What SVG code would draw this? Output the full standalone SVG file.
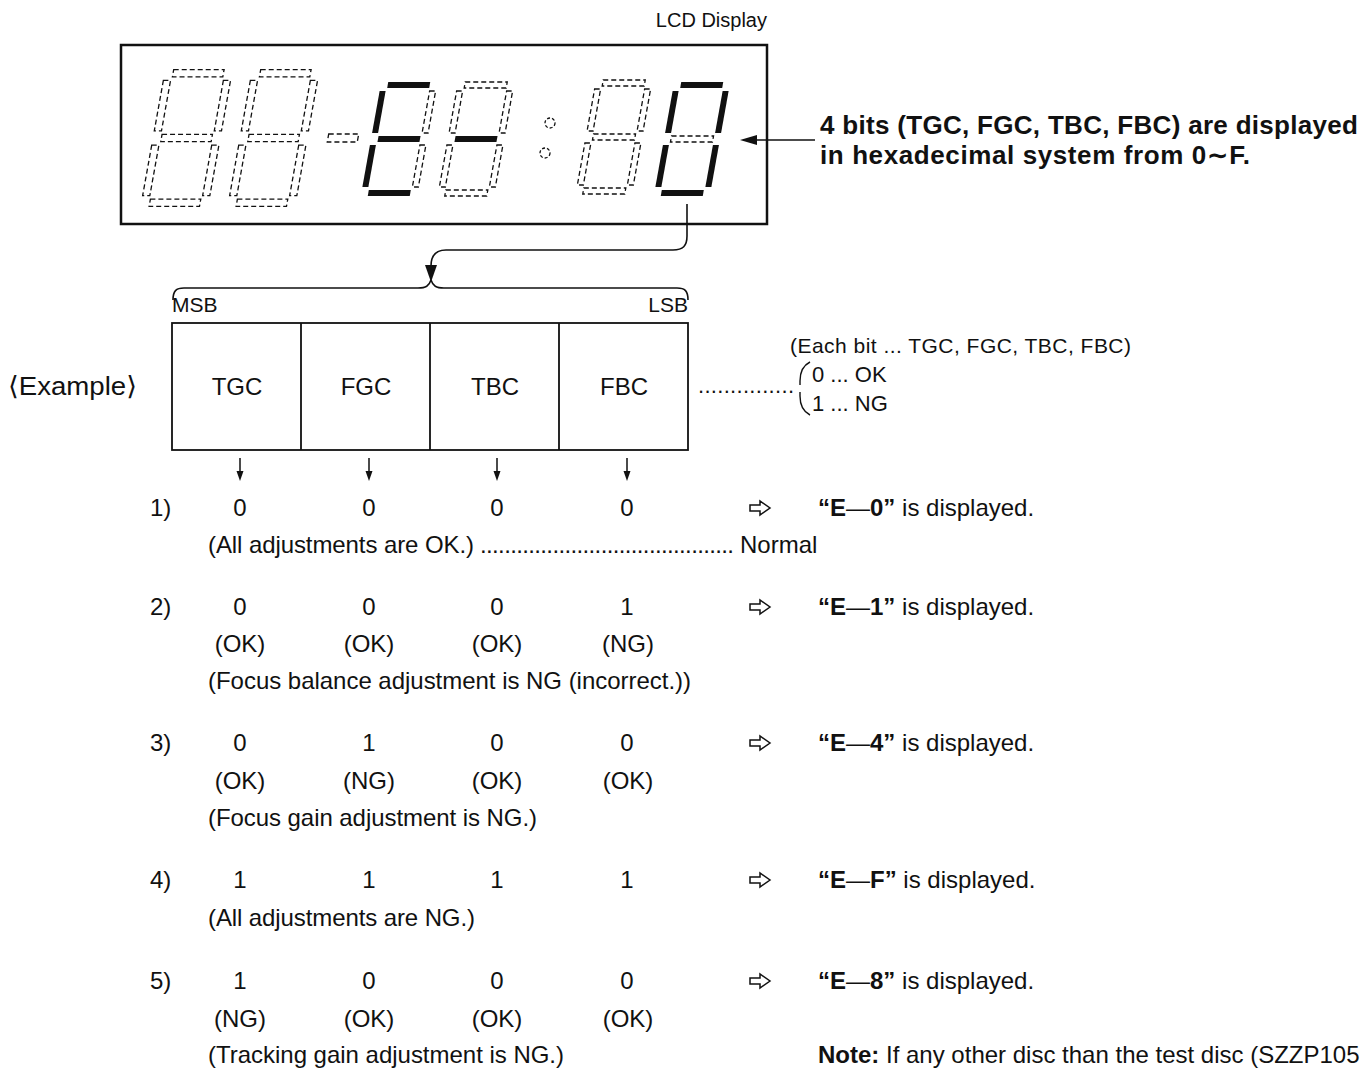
<svg xmlns="http://www.w3.org/2000/svg" xmlns:xlink="http://www.w3.org/1999/xlink" width="1366" height="1068" viewBox="0 0 1366 1068">
<style>
text { font-family: "Liberation Sans", Arial, "DejaVu Sans", sans-serif; fill: #111; }
.t24 { font-size: 24px; }
.t22 { font-size: 22px; }
.t20 { font-size: 20px; }
.c { text-anchor: middle; }
.e { text-anchor: end; }
.bd { font-weight: bold; }
.on { fill: #111; stroke: none; }
.off { fill: none; stroke: #111; stroke-width: 1.3; stroke-dasharray: 5 3; }
.ln { fill: none; stroke: #111; stroke-width: 1.6; }
.ah { fill: #111; stroke: none; }
.hol { fill: #fff; stroke: #111; stroke-width: 1.5; stroke-linejoin: miter; }
</style>
<defs>
  <rect id="sT" x="7" y="-57" width="42" height="6" vector-effect="non-scaling-stroke"/>
  <rect id="sM" x="7" y="-3" width="42" height="6" vector-effect="non-scaling-stroke"/>
  <rect id="sB" x="7" y="51" width="42" height="6" vector-effect="non-scaling-stroke"/>
  <rect id="sUL" x="0" y="-48" width="6" height="42" vector-effect="non-scaling-stroke"/>
  <rect id="sUR" x="50" y="-48" width="6" height="42" vector-effect="non-scaling-stroke"/>
  <rect id="sLL" x="0" y="6" width="6" height="42" vector-effect="non-scaling-stroke"/>
  <rect id="sLR" x="50" y="6" width="6" height="42" vector-effect="non-scaling-stroke"/>
  <polygon id="hollowArrow" points="750,-3 760,-3 760,-7 770,0 760,7 760,3 750,3"/>
  <polygon id="downArrow" points="-3.5,471 3.5,471 0,481"/>
</defs>

<!-- LCD display -->
<g id="lcd">
  <text x="767" y="27" text-anchor="end" style="font-size:20px">LCD Display</text>
  <rect x="121" y="45" width="646" height="179" fill="none" stroke="#111" stroke-width="2.5"/>
  <!-- digit 1 -->
  <g id="digit1" transform="translate(153,138) skewX(-10.2) scale(1.2)">
    <use xlink:href="#sT" class="off"/><use xlink:href="#sM" class="off"/><use xlink:href="#sB" class="off"/>
    <use xlink:href="#sUL" class="off"/><use xlink:href="#sUR" class="off"/><use xlink:href="#sLL" class="off"/><use xlink:href="#sLR" class="off"/>
  </g>
  <!-- digit 2 -->
  <g id="digit2" transform="translate(240,138) skewX(-10.2) scale(1.2)">
    <use xlink:href="#sT" class="off"/><use xlink:href="#sM" class="off"/><use xlink:href="#sB" class="off"/>
    <use xlink:href="#sUL" class="off"/><use xlink:href="#sUR" class="off"/><use xlink:href="#sLL" class="off"/><use xlink:href="#sLR" class="off"/>
  </g>
  <!-- dash -->
  <g id="dash" transform="translate(343,138) skewX(-10.2)">
    <rect x="-15" y="-4" width="30" height="8" class="off" vector-effect="non-scaling-stroke"/>
  </g>
  <!-- digit 3: E -->
  <g id="digit3" transform="translate(371,139) skewX(-10.2)">
    <use xlink:href="#sT" class="on"/><use xlink:href="#sM" class="on"/><use xlink:href="#sB" class="on"/>
    <use xlink:href="#sUL" class="on"/><use xlink:href="#sLL" class="on"/>
    <use xlink:href="#sUR" class="off"/><use xlink:href="#sLR" class="off"/>
  </g>
  <!-- digit 4: - -->
  <g id="digit4" transform="translate(448,139) skewX(-10.2)">
    <use xlink:href="#sT" class="off"/><use xlink:href="#sM" class="on"/><use xlink:href="#sB" class="off"/>
    <use xlink:href="#sUL" class="off"/><use xlink:href="#sUR" class="off"/><use xlink:href="#sLL" class="off"/><use xlink:href="#sLR" class="off"/>
  </g>
  <!-- colon -->
  <g id="colon">
    <circle cx="550" cy="123" r="5" class="off" style="stroke-dasharray:3 2"/>
    <circle cx="545" cy="153" r="5" class="off" style="stroke-dasharray:3 2"/>
  </g>
  <!-- digit 5 -->
  <g id="digit5" transform="translate(586,137) skewX(-10.2)">
    <use xlink:href="#sT" class="off"/><use xlink:href="#sM" class="off"/><use xlink:href="#sB" class="off"/>
    <use xlink:href="#sUL" class="off"/><use xlink:href="#sUR" class="off"/><use xlink:href="#sLL" class="off"/><use xlink:href="#sLR" class="off"/>
  </g>
  <!-- digit 6: 0 -->
  <g id="digit6" transform="translate(664,139) skewX(-10.2)">
    <use xlink:href="#sT" class="on"/><use xlink:href="#sB" class="on"/>
    <use xlink:href="#sUL" class="on"/><use xlink:href="#sUR" class="on"/><use xlink:href="#sLL" class="on"/><use xlink:href="#sLR" class="on"/>
    <use xlink:href="#sM" class="off"/>
  </g>
</g>

<g id="hexNote">
  <text class="bd" x="820" y="134" style="font-size:26px" textLength="538">4 bits (TGC, FGC, TBC, FBC) are displayed</text>
  <text class="bd" x="820" y="164" style="font-size:26px" textLength="430">in hexadecimal system from 0∼F.</text>
</g>

<!-- connectors -->
<g id="connectors">
  <path class="ln" d="M 815 140 H 754"/>
  <polygon class="ah" points="740,140 757,135 757,145"/>
  <path class="ln" d="M 687 204 V 236 C 687 246 683 250 673 250 H 446 C 436 250 431 255 431 266"/>
  <polygon class="ah" points="431,282 425,265 437,265"/>
  <path class="ln" d="M 173 300 C 173 291 176 288 184 288 H 418 C 426 288 429 286 431 280 C 433 286 436 288 444 288 H 677 C 685 288 688 291 688 300"/>
  <use xlink:href="#downArrow" class="ah" x="240"/>
  <use xlink:href="#downArrow" class="ah" x="369"/>
  <use xlink:href="#downArrow" class="ah" x="497"/>
  <use xlink:href="#downArrow" class="ah" x="627"/>
  <path class="ln" d="M 240 458 V 473 M 369 458 V 473 M 497 458 V 473 M 627 458 V 473" style="stroke-width:1.5"/>
  <path class="ln" d="M 810 362 Q 800 367 800 381 V 385 M 800 392 V 396 Q 800 410 810 415" style="stroke-width:1.4"/>
  <use xlink:href="#hollowArrow" class="hol" transform="translate(0,508)"/>
  <use xlink:href="#hollowArrow" class="hol" transform="translate(0,607)"/>
  <use xlink:href="#hollowArrow" class="hol" transform="translate(0,743)"/>
  <use xlink:href="#hollowArrow" class="hol" transform="translate(0,880)"/>
  <use xlink:href="#hollowArrow" class="hol" transform="translate(0,981)"/>
</g>

<!-- bit register -->
<g id="register">
  <text x="172" y="312" style="font-size:21px">MSB</text>
  <text class="e" x="688" y="312" style="font-size:21px">LSB</text>
  <rect x="172" y="323" width="516" height="127" fill="none" stroke="#111" stroke-width="1.8"/>
  <path d="M 301 323 V 450 M 430 323 V 450 M 559 323 V 450" stroke="#111" stroke-width="1.8"/>
  <text class="t24 c" x="237" y="395">TGC</text>
  <text class="t24 c" x="366" y="395">FGC</text>
  <text class="t24 c" x="495" y="395">TBC</text>
  <text class="t24 c" x="624" y="395">FBC</text>
</g>

<g id="example">
  <text x="8" y="395" style="font-size:26px" textLength="129" lengthAdjust="spacingAndGlyphs">⟨Example⟩</text>
</g>

<g id="legend">
  <text x="698" y="393" class="t22" textLength="96">...............</text>
  <text x="790" y="353" style="font-size:21px" textLength="341">(Each bit ... TGC, FGC, TBC, FBC)</text>
  <text x="812" y="382" class="t22">0 ... OK</text>
  <text x="812" y="411" class="t22">1 ... NG</text>
</g>

<!-- row 1 -->
<g id="row1">
  <text class="t24" x="150" y="516">1)</text>
  <text class="t24 c" x="240" y="516">0</text>
  <text class="t24 c" x="369" y="516">0</text>
  <text class="t24 c" x="497" y="516">0</text>
  <text class="t24 c" x="627" y="516">0</text>
  <text class="t24" x="818" y="516"><tspan class="bd">“E</tspan>—<tspan class="bd">0”</tspan> is displayed.</text>
  <text class="t24" x="208" y="553" textLength="266">(All adjustments are OK.)</text>
  <text class="t24" x="480" y="553" textLength="254">..........................................</text>
  <text class="t24" x="740" y="553">Normal</text>
</g>

<!-- row 2 -->
<g id="row2">
  <text class="t24" x="150" y="615">2)</text>
  <text class="t24 c" x="240" y="615">0</text>
  <text class="t24 c" x="369" y="615">0</text>
  <text class="t24 c" x="497" y="615">0</text>
  <text class="t24 c" x="627" y="615">1</text>
  <text class="t24" x="818" y="615"><tspan class="bd">“E</tspan>—<tspan class="bd">1”</tspan> is displayed.</text>
  <text class="t24 c" x="240" y="652">(OK)</text>
  <text class="t24 c" x="369" y="652">(OK)</text>
  <text class="t24 c" x="497" y="652">(OK)</text>
  <text class="t24 c" x="628" y="652">(NG)</text>
  <text class="t24" x="208" y="689" textLength="483">(Focus balance adjustment is NG (incorrect.))</text>
</g>

<!-- row 3 -->
<g id="row3">
  <text class="t24" x="150" y="751">3)</text>
  <text class="t24 c" x="240" y="751">0</text>
  <text class="t24 c" x="369" y="751">1</text>
  <text class="t24 c" x="497" y="751">0</text>
  <text class="t24 c" x="627" y="751">0</text>
  <text class="t24" x="818" y="751"><tspan class="bd">“E</tspan>—<tspan class="bd">4”</tspan> is displayed.</text>
  <text class="t24 c" x="240" y="789">(OK)</text>
  <text class="t24 c" x="369" y="789">(NG)</text>
  <text class="t24 c" x="497" y="789">(OK)</text>
  <text class="t24 c" x="628" y="789">(OK)</text>
  <text class="t24" x="208" y="826" textLength="329">(Focus gain adjustment is NG.)</text>
</g>

<!-- row 4 -->
<g id="row4">
  <text class="t24" x="150" y="888">4)</text>
  <text class="t24 c" x="240" y="888">1</text>
  <text class="t24 c" x="369" y="888">1</text>
  <text class="t24 c" x="497" y="888">1</text>
  <text class="t24 c" x="627" y="888">1</text>
  <text class="t24" x="818" y="888"><tspan class="bd">“E</tspan>—<tspan class="bd">F”</tspan> is displayed.</text>
  <text class="t24" x="208" y="926" textLength="267">(All adjustments are NG.)</text>
</g>

<!-- row 5 -->
<g id="row5">
  <text class="t24" x="150" y="989">5)</text>
  <text class="t24 c" x="240" y="989">1</text>
  <text class="t24 c" x="369" y="989">0</text>
  <text class="t24 c" x="497" y="989">0</text>
  <text class="t24 c" x="627" y="989">0</text>
  <text class="t24" x="818" y="989"><tspan class="bd">“E</tspan>—<tspan class="bd">8”</tspan> is displayed.</text>
  <text class="t24 c" x="240" y="1027">(NG)</text>
  <text class="t24 c" x="369" y="1027">(OK)</text>
  <text class="t24 c" x="497" y="1027">(OK)</text>
  <text class="t24 c" x="628" y="1027">(OK)</text>
  <text class="t24" x="208" y="1063" textLength="356">(Tracking gain adjustment is NG.)</text>
</g>

<g id="note">
  <text class="t24" x="818" y="1063"><tspan class="bd">Note:</tspan>  If any other disc than the test disc (SZZP105</text>
</g>
</svg>
